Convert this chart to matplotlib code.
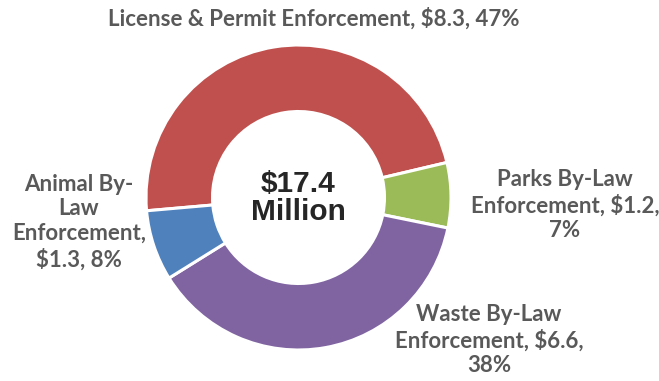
import matplotlib.pyplot as plt

# enforcement budget by program ($ millions)
programs = ["License & Permit Enforcement", "Parks By-Law Enforcement",
            "Waste By-Law Enforcement", "Animal By-Law Enforcement"]
amounts = [8.3, 1.2, 6.6, 1.3]
shares = [47, 7, 38, 8]
colors = ["#C0504D", "#9BBB59", "#8064A2", "#4F81BD"]
label_lines = [
    "License & Permit Enforcement, ${:.1f}, {}%",
    "Parks By-Law\nEnforcement, ${:.1f},\n{}%",
    "Waste By-Law\nEnforcement, ${:.1f},\n{}%",
    "Animal By-\nLaw\nEnforcement,\n${:.1f}, {}%",
]
label_pos = [(314, 362), (565, 176), (489, 41), (79, 159)]

W, H = 659, 381
fig = plt.figure(figsize=(W / 100, H / 100), dpi=100)
ax = fig.add_axes([0, 0, 1, 1])

ax.pie(amounts, colors=colors, startangle=185, counterclock=False,
       center=(298.5, H - 197.5), radius=152.5,
       wedgeprops=dict(width=152.5 - 86, edgecolor="white", linewidth=2.2))

# pixel-like data coordinates, set after pie() since it rescales
ax.set_xlim(0, W)
ax.set_ylim(0, H)
ax.set_aspect("equal")
ax.axis("off")

label_font = dict(family=["Lato", "DejaVu Sans"], fontweight="bold",
                  fontsize=16, color="#595959", linespacing=1.22)
for fmt, amt, pct, (x, y) in zip(label_lines, amounts, shares, label_pos):
    ax.text(x, y, fmt.format(amt, pct), ha="center", va="center",
            multialignment="center", **label_font)

total = sum(amounts)
ax.text(298.5, H - 197.5, "${:.1f}\nMillion".format(total), ha="center",
        va="center", family="Liberation Sans", fontweight="bold",
        fontsize=21.5, color="#262626", linespacing=1.0)

fig.savefig("out.png", dpi=100)
